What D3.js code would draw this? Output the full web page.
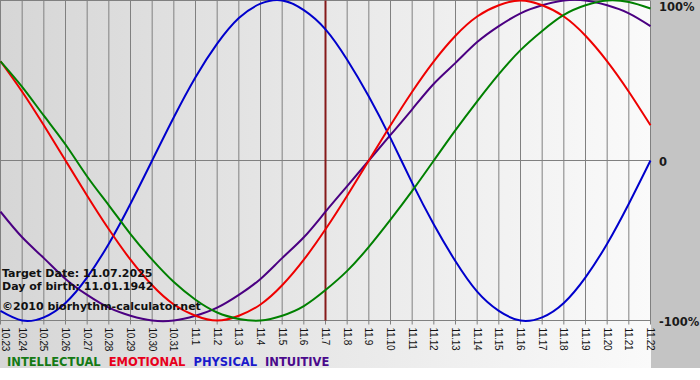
<!DOCTYPE html>
<html>
<head>
  <meta charset="UTF-8">
  <title>Biorhythm</title>
  <script src="https://d3js.org/d3.v7.min.js"></script>
  <style>
    body { margin: 0; background: #fff; }
    svg { display: block; }
  </style>
</head>
<body>
<div id="chart"></div>
<script>
// day labels, 10.23 .. 11.22
const days = ["10.23","10.24","10.25","10.26","10.27","10.28","10.29","10.30","10.31",
  "11.1","11.2","11.3","11.4","11.5","11.6","11.7","11.8","11.9","11.10","11.11","11.12",
  "11.13","11.14","11.15","11.16","11.17","11.18","11.19","11.20","11.21","11.22"];

// values, one per day (-1 .. 1)
const intellectual = [0.62,0.46,0.28,0.10,-0.10,-0.28,-0.46,-0.62,-0.76,-0.87,-0.95,-0.99,-1.00,-0.97,-0.91,-0.81,
  -0.69,-0.54,-0.37,-0.19,0.00,0.19,0.37,0.54,0.69,0.81,0.91,0.97,1.00,0.99,0.95];
const emotional = [0.62,0.43,0.22,0.00,-0.22,-0.43,-0.62,-0.78,-0.90,-0.97,-1.00,-0.97,-0.90,-0.78,-0.62,-0.43,
  -0.22,0.00,0.22,0.43,0.62,0.78,0.90,0.97,1.00,0.97,0.90,0.78,0.62,0.43,0.22];
const physical = [-0.94,-1.00,-0.98,-0.89,-0.73,-0.52,-0.27,0.00,0.27,0.52,0.73,0.89,0.98,1.00,0.94,0.82,
  0.63,0.40,0.14,-0.14,-0.40,-0.63,-0.82,-0.94,-1.00,-0.98,-0.89,-0.73,-0.52,-0.27,0.00];
const intuitive = [-0.32,-0.48,-0.61,-0.74,-0.84,-0.92,-0.97,-1.00,-1.00,-0.97,-0.92,-0.84,-0.74,-0.61,-0.48,-0.32,
  -0.16,0.00,0.16,0.32,0.48,0.61,0.74,0.84,0.92,0.97,1.00,1.00,0.97,0.92,0.84];

const seriesNames = ["INTELLECTUAL","EMOTIONAL","PHYSICAL","INTUITIVE"];
const seriesColors = ["#008000","#ee0000","#0000cc","#4b0082"];
const legendColors = ["#157a15","#e8001c","#1a1acc","#4b0a8c"];
const targetDay = "11.7";
const yTicks = [1, 0, -1];
const yTickLabels = ["100%", "0", "-100%"];
const infoLines = ["Target Date: 11.07.2025", "Day of birth: 11.01.1942", "\u00a92010 biorhythm-calculator.net"];

const W = 700, H = 380;
const plotRight = 651, plotBottom = 368;

const svg = d3.select("#chart").append("svg")
  .attr("width", W).attr("height", H);

const grad = svg.append("defs").append("linearGradient")
  .attr("id", "bg").attr("x1", "0").attr("x2", "1").attr("y1", "0").attr("y2", "0");
grad.append("stop").attr("offset", "0%").attr("stop-color", "#d6d6d6");
grad.append("stop").attr("offset", "100%").attr("stop-color", "#fafafa");

svg.append("rect").attr("width", W).attr("height", plotBottom).attr("fill", "#c4c4c4");
svg.append("rect").attr("width", plotRight).attr("height", plotBottom).attr("fill", "url(#bg)");

const x = d3.scaleLinear().domain([0, days.length - 1]).range([0.5, 650.5]);
const y = d3.scaleLinear().domain([-1, 1]).range([320.5, 0.5]);

// vertical grid
svg.append("g").selectAll("line")
  .data(days)
  .join("line")
  .attr("x1", (d, i) => x(i)).attr("x2", (d, i) => x(i))
  .attr("y1", y(1)).attr("y2", y(-1) + 4)
  .attr("stroke", "#808080").attr("stroke-width", 1);

// horizontal lines
svg.append("g").selectAll("line")
  .data(yTicks)
  .join("line")
  .attr("x1", 0).attr("x2", x(days.length - 1))
  .attr("y1", d => y(d)).attr("y2", d => y(d))
  .attr("stroke", "#808080").attr("stroke-width", 1);

// target date marker
const ti = days.indexOf(targetDay);
svg.append("line")
  .attr("x1", x(ti)).attr("x2", x(ti))
  .attr("y1", y(1)).attr("y2", y(-1))
  .attr("stroke", "#861a1a").attr("stroke-width", 2);

// curves
const line = d3.line()
  .x((d, i) => x(i))
  .y(d => y(d))
  .curve(d3.curveNatural);

const series = [intellectual, emotional, physical, intuitive];
// draw order: intuitive, physical, emotional, intellectual on top
[3, 2, 1, 0].forEach(k => {
  svg.append("path")
    .attr("d", line(series[k]))
    .attr("fill", "none")
    .attr("stroke", seriesColors[k])
    .attr("stroke-width", 2);
});

// x tick labels (first one kept just inside the left edge)
svg.append("g").selectAll("text")
  .data(days)
  .join("text")
  .attr("transform", (d, i) => "translate(" + Math.max(x(i), 5) + "," + (y(-1) + 7) + ") rotate(90)")
  .attr("dy", "0.35em")
  .style("font-family", "Liberation Sans, Arial, sans-serif")
  .style("font-size", "10px")
  .style("letter-spacing", "-0.3px")
  .attr("fill", "#111")
  .text(d => d);

// right labels
svg.append("g").selectAll("text")
  .data(yTicks)
  .join("text")
  .attr("x", 659)
  .attr("y", d => Math.max(y(d) + 5.5, 11))
  .style("font-family", "DejaVu Sans, Verdana, sans-serif")
  .style("font-weight", "bold")
  .style("font-size", "11.5px")
  .attr("fill", "#1a1a1a")
  .text((d, i) => yTickLabels[i]);

// info text
const infoY = [277, 290, 310];
svg.append("g").selectAll("text")
  .data(infoLines)
  .join("text")
  .attr("x", 2)
  .attr("y", (d, i) => infoY[i])
  .style("font-family", "DejaVu Sans, Verdana, sans-serif")
  .style("font-weight", "bold")
  .style("font-size", "11px")
  .attr("fill", "#111")
  .text(d => d);

// legend
let lx = 7;
seriesNames.forEach((name, i) => {
  const t = svg.append("text")
    .attr("x", lx).attr("y", 366)
    .style("font-family", "DejaVu Sans, Verdana, sans-serif")
    .style("font-weight", "bold")
    .style("font-size", "11.5px")
    .attr("fill", legendColors[i])
    .text(name);
  lx += t.node().getComputedTextLength() + 8;
});
</script>
</body>
</html>
